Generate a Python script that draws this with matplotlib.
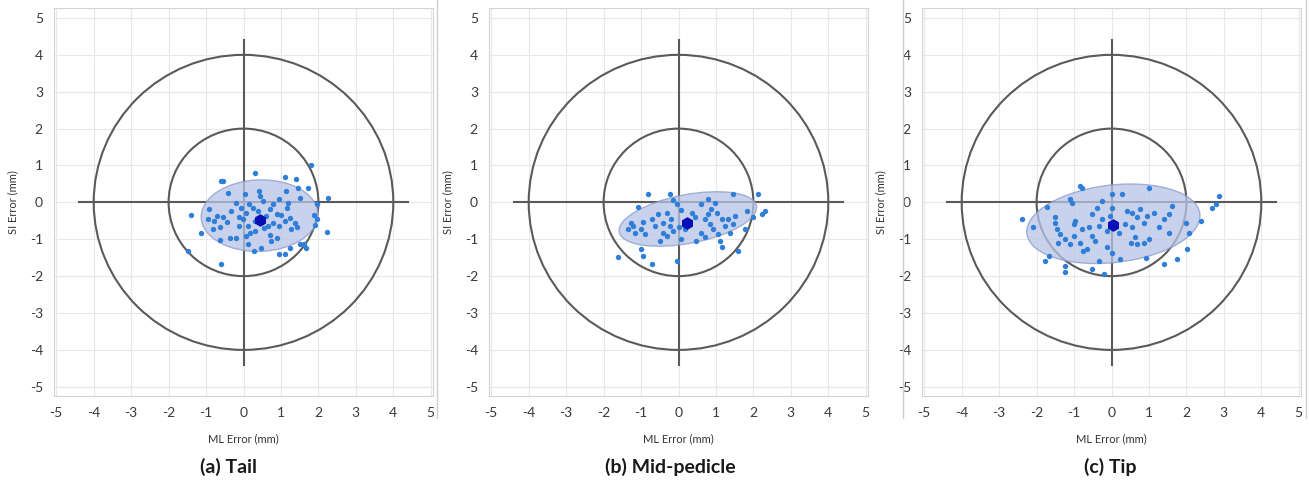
import matplotlib.pyplot as plt
import numpy as np
from matplotlib.patches import Circle, Ellipse
from matplotlib.lines import Line2D

plt.rcParams['font.family'] = ['Lato', 'DejaVu Sans']
plt.rcParams['axes.unicode_minus'] = False

# ---- data ----
tail_x = [-0.60, -0.54, 0.32, 1.10, 1.41, 1.81, -0.42, 0.03, 0.41, 0.45, 0.96, 1.19, 1.16, 1.50, 1.46,
          1.95, 2.26, -1.40, -0.96, -0.80, -0.71, -0.55, -0.45, -0.64, -0.06, 0.16, 0.25, 0.07, -0.13,
          0.70, 0.79, 0.89, 1.01, 1.10, 1.25, 1.37, 1.43, 1.28, 1.88, 1.95, 1.90, -1.14, -0.82, -0.64,
          -0.36, -0.11, 0.12, 0.18, 0.32, 0.56, 0.65, 0.71, 0.74, 0.89, 0.12, 0.27, 0.47, 0.96, 1.10,
          1.50, 1.61, 1.66, 2.22, -1.49, -0.60, 0.52, 0.61, 0.30, -0.20, -0.33, 0.96, 0.79, 0.07, 1.14,
          1.72, -0.91, 0.38, -0.21, 1.23, -0.02]
tail_y = [0.59, 0.58, 0.80, 0.68, 0.64, 1.01, 0.26, 0.22, 0.32, 0.18, 0.08, -0.01, -0.16, 0.13, 0.40,
          -0.05, 0.13, -0.35, -0.46, -0.50, -0.37, -0.41, -0.53, -0.67, -0.14, -0.05, -0.16, -0.29, -0.39,
          -0.19, -0.05, -0.31, -0.34, -0.50, -0.43, -0.57, -0.67, -0.73, -0.34, -0.46, -0.61, -0.84, -0.73,
          -1.03, -0.96, -0.64, -0.64, -0.83, -0.78, -0.70, -0.64, -0.88, -1.04, -0.96, -1.12, -1.32, -1.24,
          -1.41, -1.39, -1.14, -1.12, -1.24, -0.79, -1.32, -1.68, 0.04, -0.37, -0.50, -0.01, -0.23, -0.64,
          -0.55, -0.91, 0.31, 0.40, -0.19, -0.23, -0.96, -1.23, -0.46]

mid_x = [-0.81, -0.23, -1.08, -0.14, -0.05, 0.08, -0.32, -0.54, -0.72, -0.94, -1.21, -1.17, -0.99, -0.90,
         -0.50, -0.32, -0.14, 0.00, -0.41, -0.19, 0.79, 0.97, 0.88, 0.79, 0.70, 0.84, 0.61, 0.48, 0.93,
         1.06, 1.33, 1.46, 1.37, 1.51, 1.10, 1.46, 2.13, 2.31, 2.22, 2.00, -1.61, -0.99, -0.95, -0.72,
         -0.05, 1.15, 1.59, 0.35, 0.44, 0.17, -1.26, -0.63, -0.23, 0.61, 1.02, 1.24, 0.08, 1.77, -0.41,
         -1.35, 0.70, 1.82, 1.15]
mid_y = [0.24, 0.22, -0.12, 0.06, -0.05, -0.21, -0.28, -0.32, -0.46, -0.53, -0.64, -0.82, -0.73, -0.86,
         -1.04, -0.91, -0.77, -0.68, -0.55, -0.46, 0.08, -0.01, -0.19, -0.32, -0.46, -0.59, -0.82, -1.04,
         -0.73, -0.86, -0.46, -0.59, -0.82, -0.37, -1.04, 0.22, 0.22, -0.23, -0.32, -0.41, -1.49, -1.27,
         -1.45, -1.68, -1.59, -1.22, -1.31, -0.28, -0.41, -0.73, -0.55, -0.64, -0.64, -0.05, -0.28, -0.64,
         -1.00, -0.73, -0.82, -0.73, -0.95, -0.23, -0.46]

tip_x = [-0.84, -0.79, 0.99, -1.10, -1.06, -1.73, -2.40, -2.09, -1.51, -1.46, -1.37, -1.24, -1.42, -1.01,
         -1.01, -0.97, -0.84, -1.10, -0.61, -0.52, -0.39, -0.26, 0.01, 0.28, 0.01, -0.03, -0.34, -0.43,
         -0.12, 0.42, 0.55, 0.68, 0.86, 0.77, 0.95, 1.13, 0.55, 0.37, 0.64, 0.51, 0.68, 0.86, 0.99, 1.40,
         1.53, 1.62, 1.98, 2.07, 2.38, 2.69, 2.78, 2.87, 2.02, 1.76, 1.40, 0.91, 0.24, -0.34, -0.52, -1.24,
         -1.24, -1.77, -1.68, -0.21, 0.01, -0.66, -0.79, -0.52, -0.26, 0.19, 1.53, 1.26, -0.12, -1.51, -0.75]
tip_y = [0.44, 0.38, 0.40, 0.08, -0.01, -0.13, -0.46, -0.68, -0.41, -0.73, -0.86, -1.00, -1.09, -0.91,
         -0.59, -0.50, -1.09, -1.14, -0.68, -0.91, -0.14, 0.04, 0.22, 0.22, -0.14, -0.37, -0.64, -1.05,
         -1.22, -0.23, -0.28, -0.41, -0.55, -0.19, -0.37, -0.28, -0.68, -0.59, -0.95, -1.09, -1.14, -1.09,
         -1.00, -0.46, -0.32, -0.10, -0.55, -0.82, -0.50, -0.14, -0.05, 0.17, -1.27, -1.54, -1.68, -1.50,
         -1.54, -1.58, -1.81, -1.72, -1.90, -1.58, -1.45, -1.95, -1.36, -1.27, -0.73, -0.32, -0.46, -0.82,
         -0.82, -0.68, -0.77, -0.55, -1.31]

# mean point and 95% ellipse (center x, center y, width, height, angle) per panel
means = [(0.45, -0.49), (0.22, -0.55), (0.05, -0.61)]
ellipses = [(0.43, -0.36, 3.12, 1.94, 2), (0.25, -0.45, 3.73, 1.32, 11), (0.05, -0.58, 4.65, 2.10, 6.7)]
captions = ['(a) Tail', '(b) Mid-pedicle', '(c) Tip']
ticks = [-5, -4, -3, -2, -1, 0, 1, 2, 3, 4, 5]
ring_radii = [2, 4]
cross_len = 4.4

series = [(tail_x, tail_y), (mid_x, mid_y), (tip_x, tip_y)]

W, H = 1309, 486
fig = plt.figure(figsize=(W / 100, H / 100), dpi=100)

lefts = [54, 489, 922]
ax_w, ax_b, ax_t = 379, 396, 8
caption_cx = [228, 670, 1110]

for i, (xs, ys) in enumerate(series):
    ax = fig.add_axes([lefts[i] / W, 1 - ax_b / H, ax_w / W, (ax_b - ax_t) / H])
    ax.set_xlim(-5.06, 5.06)
    ax.set_ylim(-5.25, 5.27)
    ax.set_xticks(ticks)
    ax.set_yticks(ticks)
    ax.grid(True, color='#e8e8e8', lw=0.8)
    ax.set_axisbelow(True)
    for sp in ax.spines.values():
        sp.set_color('#d4d4d4')
        sp.set_linewidth(0.8)
    ax.tick_params(length=0, labelsize=10, labelcolor='#3a3a3a', pad=8)

    # target rings and crosshair
    for r in ring_radii:
        ax.add_patch(Circle((0, 0), r, fill=False, ec='#5a5a5a', lw=1.5, zorder=2))
    ax.plot([-cross_len, cross_len], [0, 0], color='#5a5a5a', lw=1.5, zorder=2)
    ax.plot([0, 0], [-cross_len, cross_len], color='#5a5a5a', lw=1.5, zorder=2)

    cx, cy, ew, eh, ang = ellipses[i]
    ax.add_patch(Ellipse((cx, cy), ew, eh, angle=ang, fc='#b8c3e6', ec='#8a9ccc',
                         alpha=0.75, lw=1.0, zorder=3))

    ax.scatter(xs, ys, s=15, color='#2f7ed8', zorder=4, linewidths=0)
    mx, my = means[i]
    ax.plot(mx, my, marker='h', ms=8, color='#0a10b8', zorder=5)

    ax.set_xlabel('ML Error (mm)', fontsize=8, color='#333333', labelpad=10)
    ax.set_ylabel('SI Error (mm)', fontsize=8, color='#333333', labelpad=8)

    fig.text(caption_cx[i] / W, 1 - 467 / H, captions[i], ha='center', va='center',
             fontsize=14, fontweight='bold', color='#1a1a1a')

# thin panel separators
for sx in [437, 903, 1306]:
    fig.add_artist(Line2D([sx / W, sx / W], [1 - 418 / H, 1], color='#cfcfcf', lw=1.0))

fig.savefig('out.png', dpi=100)
